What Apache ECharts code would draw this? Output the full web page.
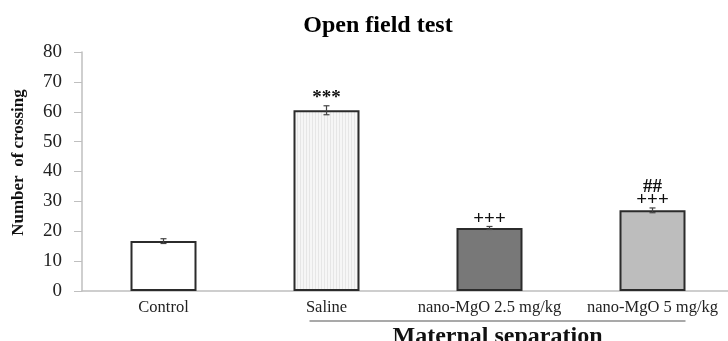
<!DOCTYPE html>
<html><head><meta charset="utf-8">
<script src="https://cdn.jsdelivr.net/npm/echarts@6/dist/echarts.min.js"></script>
<style>html,body{margin:0;padding:0;background:#fff}#c{width:728px;height:341px}</style>
</head><body><div id="c"></div>
<script>
const categories = ['Control', 'Saline', 'nano-MgO 2.5 mg/kg', 'nano-MgO 5 mg/kg'];
const values = [16.7, 60.5, 21.1, 27.0];
const errors = [0.8, 1.5, 0.5, 0.8];
const annotations = ['', '***', '+++', '##\n+++'];
const yTicks = [0, 10, 20, 30, 40, 50, 60, 70, 80];
const barColors = ['#ffffff', '#f3f3f3', '#787878', '#bdbdbd'];

const serif = '"Liberation Serif", "DejaVu Serif", serif';

// pattern for saline bar (thin vertical lines)
const pc = document.createElement('canvas');
pc.width = 3; pc.height = 3;
const pctx = pc.getContext('2d');
pctx.fillStyle = '#f6f6f6'; pctx.fillRect(0, 0, 3, 3);
pctx.fillStyle = '#e6e6e6'; pctx.fillRect(0, 0, 1, 3);

const chart = echarts.init(document.getElementById('c'), null, {renderer: 'canvas'});
const option = {
  animation: false,
  backgroundColor: '#fff',
  title: {
    text: 'Open field test', left: 373, top: 9, textAlign: 'center',
    textStyle: {fontFamily: serif, fontSize: 24, fontWeight: 'bold', color: '#000'}
  },
  grid: {left: 82, top: 52, width: 652, bottom: 50, containLabel: false, outerBoundsMode: 'none'},
  xAxis: {
    type: 'category', data: categories,
    axisLine: {lineStyle: {color: '#bfbfbf', width: 1.5}},
    axisTick: {show: false},
    axisLabel: {fontFamily: serif, fontSize: 16.5, color: '#222', margin: 8, interval: 0, hideOverlap: false}
  },
  yAxis: {
    type: 'value', min: yTicks[0], max: yTicks[yTicks.length - 1], interval: 10,
    axisLine: {show: true, lineStyle: {color: '#bfbfbf', width: 1.5}},
    axisTick: {show: true, length: 8, lineStyle: {color: '#bfbfbf'}},
    splitLine: {show: false},
    axisLabel: {fontFamily: serif, fontSize: 19, color: '#222', margin: 20}
  },
  series: [
    {
      type: 'bar', barWidth: 66,
      data: values.map((v, i) => ({
        value: v,
        itemStyle: {color: i === 1 ? {image: pc, repeat: 'repeat'} : barColors[i]}
      })),
      itemStyle: {borderColor: '#2b2b2b', borderWidth: 2},
      z: 2
    },
    {
      type: 'custom',
      data: values.map((v, i) => [i, v, errors[i]]),
      renderItem: function (params, api) {
        const x = api.value(0), v = api.value(1), e = api.value(2);
        const hi = api.coord([x, v + e]), lo = api.coord([x, v - e]);
        const w = 3;
        const st = {stroke: '#444', lineWidth: 1.2};
        return {type: 'group', children: [
          {type: 'line', shape: {x1: hi[0], y1: hi[1], x2: lo[0], y2: lo[1]}, style: st},
          {type: 'line', shape: {x1: hi[0] - w, y1: hi[1], x2: hi[0] + w, y2: hi[1]}, style: st},
          {type: 'line', shape: {x1: lo[0] - w, y1: lo[1], x2: lo[0] + w, y2: lo[1]}, style: st},
          {type: 'text', x: hi[0], y: hi[1] - 1,
           style: {text: annotations[params.dataIndex], font: 'bold 19px ' + serif, fill: '#111',
                   textAlign: 'center', textVerticalAlign: 'bottom', lineHeight: 13}}
        ]};
      },
      encode: {x: 0, y: 1},
      z: 3
    }
  ]
};
chart.setOption(option);

// y-axis title, bracket and group label placed relative to the axes
const p0 = chart.convertToPixel({xAxisIndex: 0, yAxisIndex: 0}, [0, yTicks[0]]);
const pTop = chart.convertToPixel({xAxisIndex: 0, yAxisIndex: 0}, [0, yTicks[yTicks.length - 1]]);
const axisX = 82;
const pS = chart.convertToPixel({xAxisIndex: 0, yAxisIndex: 0}, [1, 0]);
const pE = chart.convertToPixel({xAxisIndex: 0, yAxisIndex: 0}, [3, 0]);
chart.setOption({
  graphic: [
    {type: 'text', x: axisX - 63, y: (p0[1] + pTop[1]) / 2 - 9, rotation: Math.PI / 2,
     style: {text: 'Number  of crossing', font: 'bold 17px ' + serif, fill: '#111', textAlign: 'center', textVerticalAlign: 'middle'}},
    {type: 'line', shape: {x1: pS[0] - 17, y1: pS[1] + 30, x2: pE[0] + 33, y2: pS[1] + 30},
     style: {stroke: '#555', lineWidth: 1.2}},
    {type: 'text', x: (pS[0] - 17 + pE[0] + 33) / 2, y: pS[1] + 34,
     style: {text: 'Maternal separation', font: 'bold 24px ' + serif, fill: '#111', textAlign: 'center', textVerticalAlign: 'top'}}
  ]
});
</script></body></html>
